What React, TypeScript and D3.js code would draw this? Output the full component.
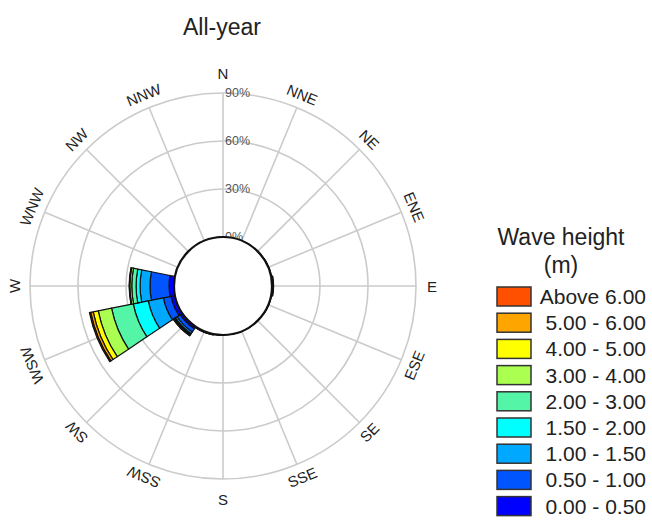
import React from 'react';
import * as d3 from 'd3';

// Compass sectors, clockwise from north
const directions = ['N', 'NNE', 'NE', 'ENE', 'E', 'ESE', 'SE', 'SSE', 'S', 'SSW', 'SW', 'WSW', 'W', 'WNW', 'NW', 'NNW'];

// Wave-height classes (lowest first) and their fills
const heightBins = ['0.00 - 0.50', '0.50 - 1.00', '1.00 - 1.50', '1.50 - 2.00', '2.00 - 3.00', '3.00 - 4.00', '4.00 - 5.00', '5.00 - 6.00', 'Above 6.00'];
const binColors = ['#0000ff', '#0055ff', '#00a8ff', '#00ffff', '#55f5a8', '#aaff50', '#ffff00', '#ffa500', '#ff5000'];

// Frequency (%) per direction for each wave-height class
const freq000_050 = [0.1, 0.1, 0.1, 0.2, 0.6, 0.2, 0.1, 0.1, 0.1, 0.3, 1.6, 2.5, 3.1, 0, 0, 0];
const freq050_100 = [0, 0, 0, 0.1, 0.3, 0.1, 0, 0, 0, 0.2, 2.4, 4.9, 11.9, 0, 0, 0];
const freq100_150 = [0, 0, 0, 0, 0.1, 0, 0, 0, 0, 0.1, 1.2, 9.6, 6.2, 0, 0, 0];
const freq150_200 = [0, 0, 0, 0, 0, 0, 0, 0, 0, 0, 0.6, 9.6, 2.5, 0, 0, 0];
const freq200_300 = [0, 0, 0, 0, 0, 0, 0, 0, 0, 0, 0.6, 13.8, 2.7, 0, 0, 0];
const freq300_400 = [0, 0, 0, 0, 0, 0, 0, 0, 0, 0, 0.3, 8.5, 1.2, 0, 0, 0];
const freq400_500 = [0, 0, 0, 0, 0, 0, 0, 0, 0, 0, 0.1, 3.2, 0.3, 0, 0, 0];
const freq500_600 = [0, 0, 0, 0, 0, 0, 0, 0, 0, 0, 0, 1.6, 0.1, 0, 0, 0];
const freqAbove600 = [0, 0, 0, 0, 0, 0, 0, 0, 0, 0, 0, 0.8, 0, 0, 0, 0];

const binSeries = [freq000_050, freq050_100, freq100_150, freq150_200, freq200_300, freq300_400, freq400_500, freq500_600, freqAbove600];

const ringTicks = [0, 30, 60, 90];
const chartTitle = 'All-year';

const W = 652;
const H = 520;
const cx = 223;
const cy = 286;
const innerR = 49;
const outerR = 193;
const FONT = '"Liberation Sans", Arial, Helvetica, sans-serif';

const rScale = d3.scaleLinear().domain([0, 90]).range([innerR, outerR]);
const rad = (deg: number) => (deg * Math.PI) / 180;
const sector = 360 / directions.length;

type Row = { dir: string; [k: string]: number | string };

const rows: Row[] = directions.map((dir, j) => {
  const row: Row = { dir };
  heightBins.forEach((_, i) => {
    row['b' + i] = binSeries[i][j];
  });
  return row;
});

const stacked = d3
  .stack<Row>()
  .keys(heightBins.map((_, i) => 'b' + i))
  .value((d, k) => d[k] as number)(rows);

const arcGen = d3.arc<any>();

function labelRotation(b: number) {
  if (b === 90) return 0;
  if (b > 90 && b <= 180) return b - 180;
  return b;
}

export default function App() {
  const legendX = 497;
  const legendTop = 287;
  const legendStep = 26.2;
  const legendOrder = heightBins.map((_, i) => heightBins.length - 1 - i);

  return (
    <svg
      width={W}
      height={H}
      style={{ position: 'absolute', left: 0, top: 0, display: 'block', background: '#fff' }}
      fontFamily={FONT}
    >
      <text x={222} y={35} textAnchor="middle" fontSize={23} fill="#222">
        {chartTitle}
      </text>

      <g transform={`translate(${cx},${cy})`}>
        {/* grid rings */}
        {ringTicks.slice(1).map((t) => (
          <circle key={t} r={rScale(t)} fill="none" stroke="#cbcbcb" strokeWidth={1.6} />
        ))}
        {/* spokes */}
        {directions.map((d, j) => {
          const a = rad(j * sector);
          return (
            <line
              key={d}
              x1={innerR * Math.sin(a)}
              y1={-innerR * Math.cos(a)}
              x2={outerR * Math.sin(a)}
              y2={-outerR * Math.cos(a)}
              stroke="#cbcbcb"
              strokeWidth={1.6}
            />
          );
        })}

        {/* stacked sectors */}
        {stacked.map((series, i) => (
          <g key={series.key}>
            {series.map((seg, j) => {
              if (seg[1] - seg[0] <= 0) return null;
              const b = j * sector;
              const path = arcGen({
                innerRadius: rScale(seg[0]),
                outerRadius: rScale(seg[1]),
                startAngle: rad(b - sector / 2),
                endAngle: rad(b + sector / 2),
              });
              return (
                <path key={j} d={path || ''} fill={binColors[i]} stroke="#111" strokeWidth={1.2} strokeLinejoin="round" />
              );
            })}
          </g>
        ))}

        {/* ring labels */}
        {ringTicks.map((t) => (
          <text key={t} x={2} y={-rScale(t)} dominantBaseline="central" fontSize={12.5} fill="#555">
            {t + '%'}
          </text>
        ))}

        {/* calm centre */}
        <circle r={innerR} fill="#fff" stroke="#111" strokeWidth={2.2} />

        {/* compass labels */}
        {directions.map((d, j) => {
          const b = j * sector;
          const a = rad(b);
          const r = b % 180 === 0 ? 213 : b % 90 === 0 ? 209 : 207;
          const x = r * Math.sin(a);
          const y = -r * Math.cos(a);
          return (
            <text
              key={d}
              x={0}
              y={0}
              transform={`translate(${x},${y}) rotate(${labelRotation(b)})`}
              textAnchor="middle"
              dominantBaseline="central"
              fontSize={15}
              fill="#222"
            >
              {d}
            </text>
          );
        })}
      </g>

      {/* legend */}
      <text x={561} y={245} textAnchor="middle" fontSize={23} fill="#222">
        Wave height
      </text>
      <text x={561} y={273} textAnchor="middle" fontSize={23} fill="#222">
        (m)
      </text>
      {legendOrder.map((bi, k) => {
        const y = legendTop + k * legendStep;
        return (
          <g key={bi}>
            <rect x={legendX} y={y} width={34} height={19} fill={binColors[bi]} stroke="#333" strokeWidth={1.5} />
            <text x={646} y={y + 17} textAnchor="end" fontSize={21} fill="#222">
              {heightBins[bi]}
            </text>
          </g>
        );
      })}
    </svg>
  );
}
